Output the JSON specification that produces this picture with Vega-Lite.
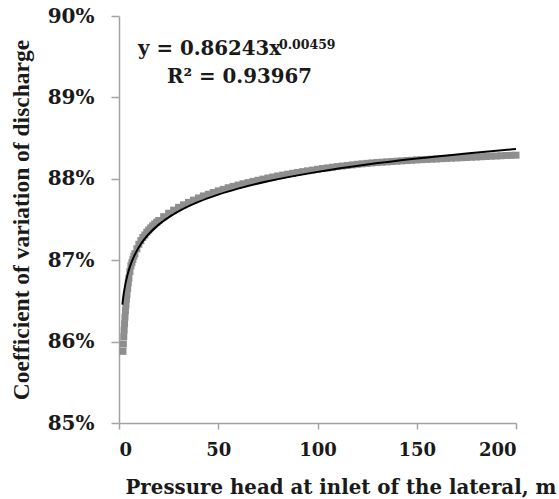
{
  "$schema": "https://vega.github.io/schema/vega-lite/v6.json",
  "width": 397,
  "height": 407,
  "autosize": "none",
  "padding": {"left": 119, "top": 16, "right": 43, "bottom": 76},
  "background": "white",
  "config": {
    "view": {"stroke": null},
    "axis": {
      "grid": false,
      "domainColor": "#a3a3a3",
      "domainWidth": 1.5,
      "tickColor": "#a3a3a3",
      "tickWidth": 1.5,
      "labelFont": "DejaVu Serif",
      "labelFontWeight": "bold",
      "labelColor": "#1a1a1a",
      "titleColor": "#1a1a1a",
      "titleFontWeight": "bold"
    }
  },
  "datasets": {
    "obs": [
      {"head": 2.0, "cv": 0.8588}, {"head": 2.2, "cv": 0.8597}, {"head": 2.4, "cv": 0.8606}, {"head": 2.6, "cv": 0.8614},
      {"head": 2.8, "cv": 0.8622}, {"head": 3.0, "cv": 0.8630}, {"head": 3.25, "cv": 0.8638}, {"head": 3.5, "cv": 0.8645},
      {"head": 3.75, "cv": 0.8652}, {"head": 4.0, "cv": 0.8658}, {"head": 4.33, "cv": 0.8665}, {"head": 4.67, "cv": 0.8672},
      {"head": 5.0, "cv": 0.8678}, {"head": 5.5, "cv": 0.8686}, {"head": 6.0, "cv": 0.8693}, {"head": 6.5, "cv": 0.8697},
      {"head": 7.0, "cv": 0.8701}, {"head": 7.5, "cv": 0.8705}, {"head": 8.0, "cv": 0.8708}, {"head": 9.0, "cv": 0.8714},
      {"head": 10, "cv": 0.87195}, {"head": 11, "cv": 0.8724}, {"head": 12, "cv": 0.8728}, {"head": 13, "cv": 0.8731},
      {"head": 14, "cv": 0.87345}, {"head": 15, "cv": 0.87372}, {"head": 16, "cv": 0.87398}, {"head": 17, "cv": 0.87423},
      {"head": 18, "cv": 0.87445}, {"head": 19, "cv": 0.87467}, {"head": 20, "cv": 0.87487}, {"head": 22.5, "cv": 0.87535},
      {"head": 25, "cv": 0.87577}, {"head": 27.5, "cv": 0.87615}, {"head": 30, "cv": 0.8765}, {"head": 32.5, "cv": 0.8768},
      {"head": 35, "cv": 0.8771}, {"head": 37.5, "cv": 0.87738}, {"head": 40, "cv": 0.87765}, {"head": 42.5, "cv": 0.8779},
      {"head": 45, "cv": 0.8781}, {"head": 47.5, "cv": 0.87832}, {"head": 50, "cv": 0.87852}, {"head": 52.5, "cv": 0.8787},
      {"head": 55, "cv": 0.8789}, {"head": 57.5, "cv": 0.87907}, {"head": 60, "cv": 0.87923}, {"head": 62.5, "cv": 0.87939},
      {"head": 65, "cv": 0.87953}, {"head": 67.5, "cv": 0.87968}, {"head": 70, "cv": 0.87982}, {"head": 72.5, "cv": 0.87996},
      {"head": 75, "cv": 0.8801}, {"head": 77.5, "cv": 0.88022}, {"head": 80, "cv": 0.88035}, {"head": 82.5, "cv": 0.88046},
      {"head": 85, "cv": 0.88057}, {"head": 87.5, "cv": 0.88068}, {"head": 90, "cv": 0.88078}, {"head": 92.5, "cv": 0.88088},
      {"head": 95, "cv": 0.88098}, {"head": 97.5, "cv": 0.88107}, {"head": 100, "cv": 0.88117}, {"head": 102.5, "cv": 0.88126},
      {"head": 105, "cv": 0.88134}, {"head": 107.5, "cv": 0.88142}, {"head": 110, "cv": 0.8815}, {"head": 112.5, "cv": 0.88157},
      {"head": 115, "cv": 0.88164}, {"head": 117.5, "cv": 0.88171}, {"head": 120, "cv": 0.88178}, {"head": 122.5, "cv": 0.88184},
      {"head": 125, "cv": 0.8819}, {"head": 127.5, "cv": 0.88195}, {"head": 130, "cv": 0.882}, {"head": 132.5, "cv": 0.88204},
      {"head": 135, "cv": 0.88208}, {"head": 137.5, "cv": 0.88212}, {"head": 140, "cv": 0.88216}, {"head": 142.5, "cv": 0.8822},
      {"head": 145, "cv": 0.88224}, {"head": 147.5, "cv": 0.88228}, {"head": 150, "cv": 0.88232}, {"head": 152.5, "cv": 0.88235},
      {"head": 155, "cv": 0.88238}, {"head": 157.5, "cv": 0.88241}, {"head": 160, "cv": 0.88244}, {"head": 162.5, "cv": 0.88247},
      {"head": 165, "cv": 0.8825}, {"head": 167.5, "cv": 0.88253}, {"head": 170, "cv": 0.88256}, {"head": 172.5, "cv": 0.88259},
      {"head": 175, "cv": 0.88262}, {"head": 177.5, "cv": 0.88265}, {"head": 180, "cv": 0.88268}, {"head": 182.5, "cv": 0.88271},
      {"head": 185, "cv": 0.88274}, {"head": 187.5, "cv": 0.88277}, {"head": 190, "cv": 0.8828}, {"head": 192.5, "cv": 0.88283},
      {"head": 195, "cv": 0.88286}, {"head": 197.5, "cv": 0.88288}, {"head": 200, "cv": 0.8829}
    ],
    "fit": [
      {"head": 1.7, "cv": 0.86453}, {"head": 2, "cv": 0.86518}, {"head": 2.5, "cv": 0.86607}, {"head": 3, "cv": 0.86679},
      {"head": 4, "cv": 0.86794}, {"head": 5, "cv": 0.86882}, {"head": 6, "cv": 0.86955}, {"head": 8, "cv": 0.87070},
      {"head": 10, "cv": 0.87159}, {"head": 12.5, "cv": 0.87249}, {"head": 15, "cv": 0.87322}, {"head": 20, "cv": 0.87437},
      {"head": 25, "cv": 0.87527}, {"head": 30, "cv": 0.87600}, {"head": 40, "cv": 0.87716}, {"head": 50, "cv": 0.87806},
      {"head": 60, "cv": 0.87879}, {"head": 75, "cv": 0.87969}, {"head": 100, "cv": 0.88085}, {"head": 125, "cv": 0.88176},
      {"head": 150, "cv": 0.88250}, {"head": 175, "cv": 0.88312}, {"head": 200, "cv": 0.88366}
    ],
    "eq": [
      {"head": 9.6, "cv": 0.8952, "label": "y = 0.86243x"},
      {"head": 24.2, "cv": 0.89177, "label": "R² = 0.93967"}
    ],
    "sup": [
      {"head": 80.6, "cv": 0.89595, "label": "0.00459"}
    ]
  },
  "encoding": {
    "x": {
      "field": "head",
      "type": "quantitative",
      "scale": {"domain": [0, 200], "nice": false, "zero": false},
      "axis": {
        "values": [0, 50, 100, 150, 200],
        "labelFontSize": 18,
        "tickSize": 6,
        "labelPadding": 12,
        "title": "Pressure head at inlet of the lateral, m",
        "titleFont": "DejaVu Serif",
        "titleFontSize": 19.8,
        "titleAnchor": "start",
        "titleAlign": "left",
        "titleBaseline": "alphabetic",
        "titleX": 6,
        "titleY": 70
      }
    },
    "y": {
      "field": "cv",
      "type": "quantitative",
      "scale": {"domain": [0.85, 0.90], "nice": false, "zero": false},
      "axis": {
        "values": [0.85, 0.86, 0.87, 0.88, 0.89, 0.90],
        "format": ".0%",
        "labelFontSize": 20,
        "tickSize": 8,
        "labelPadding": 17,
        "title": "Coefficient of variation of discharge",
        "titleFont": "Liberation Serif",
        "titleFontSize": 23.5,
        "titleAngle": 270,
        "titleAlign": "center",
        "titleBaseline": "alphabetic",
        "titleX": -91,
        "titleY": 203.5
      }
    }
  },
  "layer": [
    {
      "data": {"name": "obs"},
      "mark": {"type": "point", "shape": "square", "filled": true, "size": 49, "color": "#8e8e8e", "opacity": 1}
    },
    {
      "data": {"name": "fit"},
      "mark": {"type": "line", "color": "#000000", "strokeWidth": 2, "interpolate": "monotone"}
    },
    {
      "data": {"name": "eq"},
      "mark": {"type": "text", "align": "left", "baseline": "alphabetic", "font": "DejaVu Serif", "fontWeight": "bold", "fontSize": 19.8, "color": "#1a1a1a"},
      "encoding": {"text": {"field": "label"}}
    },
    {
      "data": {"name": "sup"},
      "mark": {"type": "text", "align": "left", "baseline": "alphabetic", "font": "DejaVu Serif", "fontWeight": "bold", "fontSize": 12.5, "color": "#1a1a1a"},
      "encoding": {"text": {"field": "label"}}
    }
  ]
}
